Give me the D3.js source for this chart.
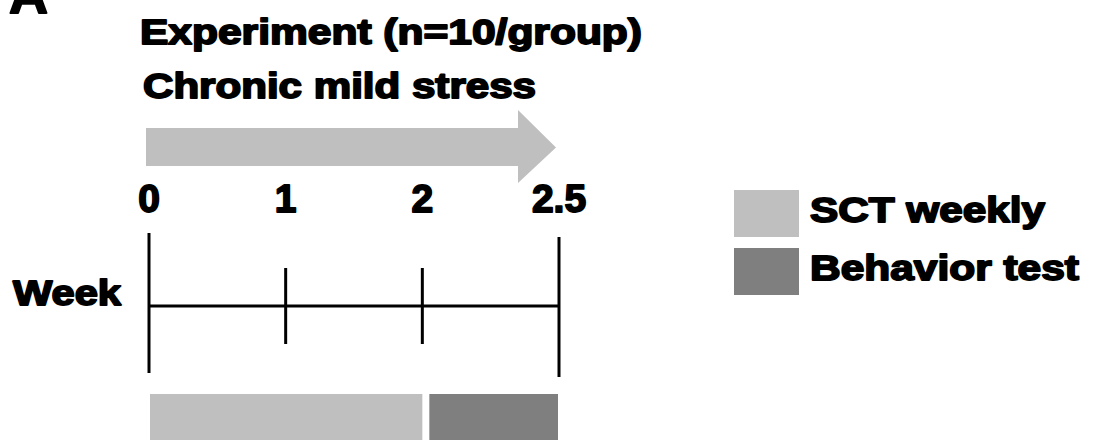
<!DOCTYPE html>
<html>
<head>
<meta charset="utf-8">
<script src="https://cdn.jsdelivr.net/npm/d3@7"></script>
<style>
  html, body { margin: 0; padding: 0; background: #fff; }
  svg { display: block; }
  text { font-family: "Liberation Sans", Arial, sans-serif; font-weight: bold; fill: #000; stroke: #000; stroke-width: 1.8; stroke-linejoin: round; }
</style>
</head>
<body>
<script>
// ---- data ----
const panelLetter = "A";
const titleText = "Experiment (n=10/group)";
const stressText = "Chronic mild stress";
const axisLabel = "Week";
const weeks = ["0", "1", "2", "2.5"];
const majorWeeks = ["0", "2.5"];
const phaseLabels = ["SCT weekly", "Behavior test"];
const phaseStart = ["0", "2"];
const phaseEnd = ["2", "2.5"];
const stressStart = ["0"];
const stressEnd = ["2.5"];

// ---- styles ----
const phaseColors = ["#bfbfbf", "#7f7f7f"];
const arrowColor = "#bfbfbf";

const W = 1095, H = 440;
const svg = d3.select("body").append("svg").attr("width", W).attr("height", H);

const x = d3.scalePoint().domain(weeks).range([149, 559]);
const lineY = 306;

// panel letter (cut off at top, as in the original figure)
svg.append("text").attr("x", 9).attr("y", 13).style("font-size", "54px").text(panelLetter);

// titles
svg.append("text").attr("x", 140).attr("y", 44).style("font-size", "35px")
  .attr("textLength", 502).attr("lengthAdjust", "spacingAndGlyphs").text(titleText);
svg.append("text").attr("x", 143).attr("y", 98).style("font-size", "35px")
  .attr("textLength", 393).attr("lengthAdjust", "spacingAndGlyphs").text(stressText);

// stress arrow
const aX0 = x(stressStart[0]) - 3, aX1 = x(stressEnd[0]) - 3;
const headLen = 38, bodyTop = 128, bodyBot = 166, headTop = 110, headBot = 183;
const mid = (bodyTop + bodyBot) / 2;
svg.append("path")
  .attr("d", d3.line()([
    [aX0, bodyTop], [aX1 - headLen, bodyTop], [aX1 - headLen, headTop], [aX1, mid + 0.5],
    [aX1 - headLen, headBot], [aX1 - headLen, bodyBot], [aX0, bodyBot]
  ]) + "Z")
  .attr("fill", arrowColor);

// week tick labels
svg.selectAll(".wlab").data(weeks).join("text").attr("class", "wlab")
  .attr("x", d => x(d)).attr("y", 212).attr("text-anchor", "middle")
  .style("font-size", "39px").text(d => d);

// axis line & ticks
svg.append("line").attr("x1", x(weeks[0])).attr("x2", x(weeks[weeks.length - 1]))
  .attr("y1", lineY).attr("y2", lineY).attr("stroke", "#000").attr("stroke-width", 3);
svg.selectAll(".tick").data(weeks).join("line").attr("class", "tick")
  .attr("x1", d => x(d)).attr("x2", d => x(d))
  .attr("y1", (d, i) => majorWeeks.includes(d) ? (i === 0 ? lineY - 73 : lineY - 69) : lineY - 38)
  .attr("y2", (d, i) => majorWeeks.includes(d) ? (i === 0 ? lineY + 67 : lineY + 71) : lineY + 38)
  .attr("stroke", "#000").attr("stroke-width", 3);

svg.append("text").attr("x", 13).attr("y", 305).style("font-size", "35px")
  .attr("textLength", 108).attr("lengthAdjust", "spacingAndGlyphs").text(axisLabel);

// phase bars
const gap = 7;
svg.selectAll(".phase").data(phaseLabels).join("rect").attr("class", "phase")
  .attr("x", (d, i) => x(phaseStart[i]) + (i === 0 ? 1 : gap))
  .attr("width", (d, i) => x(phaseEnd[i]) - x(phaseStart[i]) - (i === 0 ? 0 : gap) - 1)
  .attr("y", 394).attr("height", 60)
  .attr("fill", (d, i) => phaseColors[i]);

// legend
const legY = [190, 248];
const legW = [235, 269];
const legG = svg.selectAll(".leg").data(phaseLabels).join("g").attr("class", "leg");
legG.append("rect").attr("x", 734).attr("y", (d, i) => legY[i]).attr("width", 65).attr("height", 47)
  .attr("fill", (d, i) => phaseColors[i]);
legG.append("text").attr("x", 810).attr("y", (d, i) => legY[i] + 32).style("font-size", "35px")
  .attr("textLength", (d, i) => legW[i]).attr("lengthAdjust", "spacingAndGlyphs").text(d => d);
</script>
</body>
</html>
